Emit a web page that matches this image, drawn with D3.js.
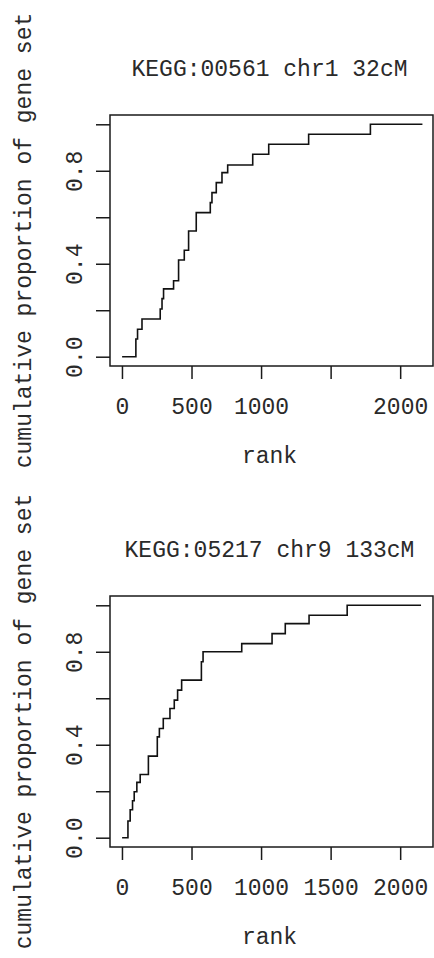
<!DOCTYPE html>
<html lang="en">
<head>
  <meta charset="UTF-8">
  <title>Cumulative proportion of gene set by rank</title>
  <script src="https://d3js.org/d3.v7.min.js"></script>
  <style>
    body {
      margin: 0;
      background: #fff;
    }

    svg {
      display: block;
    }

    text {
      font-family: "Liberation Mono", "DejaVu Sans Mono", monospace;
      font-size: 23px;
      fill: #2a2a2a;
    }
  </style>
</head>
<body>
  <svg></svg>
  <script>
    // values
    const titles = ["KEGG:00561 chr1 32cM", "KEGG:05217 chr9 133cM"];
    const xTicks = [0, 500, 1000, 1500, 2000];
    const xTickLabels1 = ["0", "500", "1000", "", "2000"];
    const xTickLabels2 = ["0", "500", "1000", "1500", "2000"];
    const yTicks = [0, 0.2, 0.4, 0.6, 0.8, 1.0];
    const yTickLabels = ["0.0", "", "0.4", "", "0.8", ""];
    const xLimits = [0, 2150];
    const yLimits = [0, 1];

    const rank1 = [1, 100, 112, 144, 275, 288, 299, 371, 407, 448, 479, 534, 635, 647, 678, 719, 760, 940, 1055, 1342, 1786, 2160];
    const prop1 = [0, 0.076, 0.118, 0.162, 0.205, 0.25, 0.292, 0.327, 0.416, 0.458, 0.541, 0.62, 0.663, 0.706, 0.749, 0.792, 0.825, 0.871, 0.914, 0.957, 1, 1];

    const rank2 = [1, 43, 59, 76, 88, 107, 131, 190, 254, 269, 297, 345, 376, 400, 429, 571, 583, 861, 1079, 1174, 1345, 1619, 2150];
    const prop2 = [0, 0.072, 0.12, 0.159, 0.198, 0.238, 0.272, 0.351, 0.434, 0.47, 0.513, 0.556, 0.592, 0.635, 0.678, 0.757, 0.8, 0.835, 0.878, 0.921, 0.957, 1, 1];

    const W = 434, H = 958;
    const svg = d3.select("svg").attr("width", W).attr("height", H);

    // R style 4% padding on both axes
    function pad(lim) {
      const d = (lim[1] - lim[0]) * 0.04;
      return [lim[0] - d, lim[1] + d];
    }

    const panels = [
      { top: 115, title: titles[0], ranks: rank1, props: prop1, xLabels: xTickLabels1 },
      { top: 596, title: titles[1], ranks: rank2, props: prop2, xLabels: xTickLabels2 }
    ];

    const left = 110, right = 433, plotH = 251;

    panels.forEach(p => {
      const bottom = p.top + plotH;
      const x = d3.scaleLinear().domain(pad(xLimits)).range([left, right]);
      const y = d3.scaleLinear().domain(pad(yLimits)).range([bottom, p.top]);
      const g = svg.append("g");

      // title
      g.append("text")
        .attr("x", (left + right) / 2 - 2)
        .attr("y", p.top - 39)
        .attr("text-anchor", "middle")
        .text(p.title);

      // x axis
      const xa = g.append("g")
        .attr("transform", `translate(0,${bottom})`)
        .call(d3.axisBottom(x).tickValues(xTicks).tickSize(13)
          .tickFormat((d, i) => p.xLabels[i]));
      xa.select(".domain").remove();
      xa.selectAll("line").attr("stroke", "#1a1a1a").attr("stroke-width", 1.5);
      xa.selectAll("text").attr("y", 48).attr("dy", 0)
        .attr("fill", "#2a2a2a").style("font-size", null);

      g.append("text")
        .attr("x", (left + right) / 2 - 2)
        .attr("y", bottom + 97)
        .attr("text-anchor", "middle")
        .text("rank");

      // y axis
      const ya = g.append("g")
        .attr("transform", `translate(${left},0)`)
        .call(d3.axisLeft(y).tickValues(yTicks).tickSize(14)
          .tickFormat((d, i) => yTickLabels[i]));
      ya.select(".domain").remove();
      ya.selectAll("line").attr("stroke", "#1a1a1a").attr("stroke-width", 1.5);
      ya.selectAll("text")
        .attr("x", 0).attr("y", -28).attr("dy", 0)
        .attr("transform", "rotate(-90)")
        .attr("text-anchor", "middle")
        .attr("fill", "#2a2a2a");

      g.append("text")
        .attr("transform", `translate(31,${(p.top + bottom) / 2}) rotate(-90)`)
        .attr("text-anchor", "middle")
        .text("cumulative proportion of gene set");

      // box
      g.append("rect")
        .attr("x", left).attr("y", p.top)
        .attr("width", right - left).attr("height", plotH)
        .attr("fill", "none")
        .attr("stroke", "#1a1a1a")
        .attr("stroke-width", 1.5);

      // step curve
      const pts = p.ranks.map((r, i) => [r, p.props[i]]);
      g.append("path")
        .datum(pts)
        .attr("fill", "none")
        .attr("stroke", "#111")
        .attr("stroke-width", 1.6)
        .attr("d", d3.line()
          .x(d => x(d[0]))
          .y(d => y(d[1]))
          .curve(d3.curveStepAfter));
    });
  </script>
</body>
</html>
